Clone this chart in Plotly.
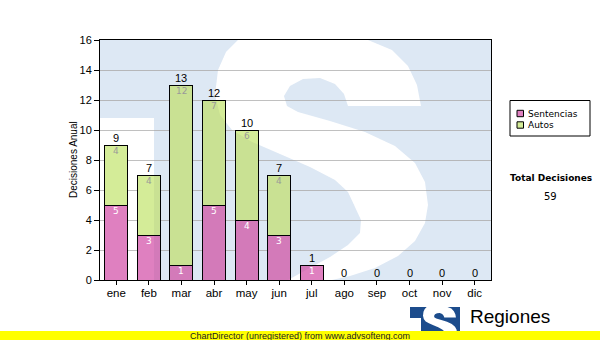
import plotly.graph_objects as go

# ---------------- data ----------------
months = ["ene", "feb", "mar", "abr", "may", "jun", "jul", "ago", "sep", "oct", "nov", "dic"]
sentencias = [5, 3, 1, 5, 4, 3, 1, 0, 0, 0, 0, 0]
autos = [4, 4, 12, 7, 6, 4, 0, 0, 0, 0, 0, 0]
series_names = ["Sentencias", "Autos"]
y_tick_vals = [0, 2, 4, 6, 8, 10, 12, 14, 16]
y_title = "Decisiones Anual"
total_title = "Total Decisiones"
brand_name = "Regiones"
footer_text = "ChartDirector (unregistered) from www.advsofteng.com"

# ---------------- style ----------------
W, H = 600, 340
PL, PR, PT, PB = 100, 491, 40, 280
PINK = "#df80c0"
GREEN = "#d4ec98"
series_colors = [PINK, GREEN]
label_colors = ["#ffffff", "#999999"]
AX_FONT = "Liberation Sans, Arial, sans-serif"
V_FONT = "DejaVu Sans, Verdana, sans-serif"


def px(x):
    return (x - PL) / (PR - PL)


def py(y):
    return (PB - y) / (PB - PT)


def sub_path(points):
    return "M " + " L ".join(f"{px(x):.5f},{py(y):.5f}" for x, y in points) + " Z"


def rect_pts(x0, y0, x1, y1):
    return [(x0, y0), (x1, y0), (x1, y1), (x0, y1)]


# outline of the big "S" of the background watermark (pixel space)
S_OUTLINE = [
    (238, 40), (368, 40), (392, 50), (408, 66), (417, 85), (421, 106),
    (348, 106), (344, 94), (335, 84), (320, 78), (303, 79), (290, 86),
    (284, 96), (287, 106), (298, 112), (330, 121), (365, 132), (395, 146),
    (415, 163), (425, 182), (428, 205), (425, 223), (415, 241), (398, 256),
    (375, 268), (350, 276), (332, 280),
    (288, 280), (306, 270), (330, 257), (348, 245), (360, 233), (361, 220),
    (355, 207), (348, 192), (335, 180), (310, 167),
    (280, 154), (252, 142), (232, 130), (220, 115), (215, 95), (218, 70),
    (226, 52),
]

totals = [s + a for s, a in zip(sentencias, autos)]
grand_total = sum(totals)

fig = go.Figure()
for name, vals, col in zip(series_names, [sentencias, autos], series_colors):
    fig.add_trace(go.Bar(
        x=months, y=vals, name=name,
        marker=dict(color=col, line=dict(color="#000000", width=1)),
        showlegend=False, hoverinfo="skip",
    ))

annotations = []
# value labels inside segments
bases = [0] * len(months)
for vals, lc in zip([sentencias, autos], label_colors):
    for i, (m, v) in enumerate(zip(months, vals)):
        if v > 0:
            annotations.append(dict(
                x=m, y=bases[i] + v, xref="x", yref="y", text=str(v),
                showarrow=False, yanchor="middle", yshift=-6,
                font=dict(family=V_FONT, size=9, color=lc),
            ))
        bases[i] += v
# totals above bars
for m, t in zip(months, totals):
    annotations.append(dict(
        x=m, y=t, xref="x", yref="y", text=str(t), showarrow=False,
        yanchor="middle", yshift=7,
        font=dict(family=AX_FONT, size=11, color="#000000"),
    ))
# y axis title
annotations.append(dict(
    x=px(73), y=py(160), xref="paper", yref="paper", text=y_title,
    textangle=-90, showarrow=False, xanchor="center", yanchor="middle",
    font=dict(family=AX_FONT, size=10, color="#000000"),
))
# custom legend texts
leg_rows_y = [113.5, 125]
for name, yy in zip(series_names, leg_rows_y):
    annotations.append(dict(
        x=px(526), y=py(yy), xref="paper", yref="paper", text=name,
        showarrow=False, xanchor="left", yanchor="middle",
        font=dict(family=V_FONT, size=9, color="#000000"),
    ))
# total box
annotations.append(dict(
    x=px(551), y=py(178), xref="paper", yref="paper", text="<b>" + total_title + "</b>",
    showarrow=False, xanchor="center", yanchor="middle",
    font=dict(family=V_FONT, size=9, color="#000000"),
))
annotations.append(dict(
    x=px(550), y=py(196.5), xref="paper", yref="paper", text=str(grand_total),
    showarrow=False, xanchor="center", yanchor="middle",
    font=dict(family=V_FONT, size=10, color="#000000"),
))
# brand
annotations.append(dict(
    x=px(468), y=py(316), xref="paper", yref="paper", text=brand_name,
    showarrow=False, xanchor="left", yanchor="middle",
    font=dict(family=AX_FONT, size=19, color="#000000"),
))
# footer
annotations.append(dict(
    x=px(300), y=py(335.5), xref="paper", yref="paper", text=footer_text,
    showarrow=False, xanchor="center", yanchor="middle",
    font=dict(family=AX_FONT, size=9, color="#202020"),
))

shapes = []
# watermark: light wash between grid and bars + faint tint above bars
wm_path = (sub_path(rect_pts(PL, PT, PR, PB)) + " " + sub_path(S_OUTLINE) + " "
           + sub_path(rect_pts(PL, 118, 154, PB)))
shapes.append(dict(type="path", path=wm_path, xref="paper", yref="paper",
                   fillcolor="rgba(212,233,254,0.5)", line=dict(width=0),
                   layer="between", fillrule="evenodd"))
shapes.append(dict(type="path", path=wm_path, xref="paper", yref="paper",
                   fillcolor="rgba(0,10,50,0.05)", line=dict(width=0),
                   layer="above", fillrule="evenodd"))
# legend box + swatches
shapes.append(dict(type="rect", xref="paper", yref="paper",
                   x0=px(510), x1=px(590), y0=py(100.5), y1=py(136),
                   line=dict(color="#000000", width=1), fillcolor="#ffffff", layer="above"))
for col, yy in zip(series_colors, leg_rows_y):
    shapes.append(dict(type="rect", xref="paper", yref="paper",
                       x0=px(517), x1=px(523.5), y0=py(yy - 3.2), y1=py(yy + 3.2),
                       line=dict(color="#000000", width=1), fillcolor=col, layer="above"))
# logo
k = 0.16
logo_S = [(423 + (x - 215) * k, 307 + (y - 40) * k) for x, y in S_OUTLINE]
logo_path = (sub_path(rect_pts(410, 307, 460, 331)) + " " + sub_path(logo_S) + " "
             + sub_path(rect_pts(410, 318, 421, 331)))
shapes.append(dict(type="path", path=logo_path, xref="paper", yref="paper",
                   fillcolor="#1c4c8c", line=dict(width=0), layer="above",
                   fillrule="evenodd"))
# yellow footer band
shapes.append(dict(type="rect", xref="paper", yref="paper",
                   x0=px(0), x1=px(W), y0=py(331), y1=py(H),
                   line=dict(width=0), fillcolor="#ffff00", layer="above"))

fig.update_layout(
    width=W, height=H,
    margin=dict(l=PL, r=W - PR, t=PT, b=H - PB, pad=0),
    paper_bgcolor="#ffffff", plot_bgcolor="#ffffff",
    barmode="stack", bargap=0.295,
    showlegend=False,
    annotations=annotations, shapes=shapes,
    xaxis=dict(
        type="category", categoryorder="array", categoryarray=months,
        showline=True, linecolor="#000000", linewidth=1, mirror=True,
        ticks="outside", ticklen=4, tickcolor="#000000", tickwidth=1,
        showgrid=False, zeroline=False, ticklabelstandoff=-2,
        tickfont=dict(family=AX_FONT, size=11.5, color="#000000"),
    ),
    yaxis=dict(
        range=[0, 16], tickvals=y_tick_vals,
        showline=True, linecolor="#000000", linewidth=1, mirror=True,
        ticks="outside", ticklen=5, tickcolor="#000000", tickwidth=1,
        showgrid=True, gridcolor="#c0c0c0", gridwidth=1, zeroline=False,
        tickfont=dict(family=AX_FONT, size=11, color="#000000"),
    ),
)

fig.write_html("out.html")
